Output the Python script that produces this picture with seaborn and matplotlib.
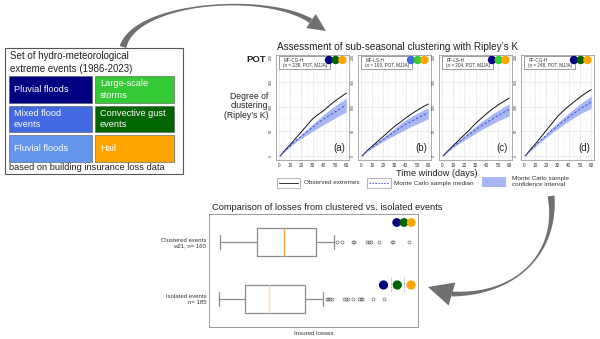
import numpy as np
import pandas as pd
import matplotlib
matplotlib.use("Agg")
import matplotlib.pyplot as plt
import seaborn as sns
from matplotlib.patches import Rectangle, Circle, Polygon
from matplotlib.ticker import NullFormatter

sns.set_theme(style="white")
plt.rcParams["font.family"] = ["Liberation Sans", "DejaVu Sans"]

# ---------------- data ----------------
event_types = ["Pluvial floods", "Large-scale\nstorms", "Mixed flood\nevents",
               "Convective gust\nevents", "Fluvial floods", "Hail"]
event_colors = ["#000080", "#35C935", "#4169E1", "#006400", "#6495ED", "#FFA500"]

days = [1, 5, 10, 15, 20, 25, 30, 35, 40, 45, 50, 55, 60]
panel_names = ["MF-CG-H", "MF-LS-H", "PF-LS-H", "PF-CG-H"]
panel_info = ["(n = 238, POT, MJJA)", "(n = 193, POT, MJJA)",
              "(n = 204, POT, MJJA)", "(n = 248, POT, MJJA)"]
panel_tags = ["(a)", "(b)", "(c)", "(d)"]
panel_dots = [["#000080", "#006400", "#FFA500"],
              ["#4169E1", "#32CD32", "#FFA500"],
              ["#000080", "#32CD32", "#FFA500"],
              ["#000080", "#006400", "#FFA500"]]

obs_a = [0, 11, 23, 36, 49, 62, 75, 84, 92, 102, 111, 119, 127]
med_a = [0, 10, 21, 31, 40, 49, 58, 67, 75, 82, 89, 96, 103]
lo_a = [0, 9, 19, 28, 36, 43, 50, 57, 64, 70, 77, 83, 89]
hi_a = [0, 11, 24, 34, 44, 54, 64, 74, 84, 93, 101, 109, 117]

obs_b = [0, 10, 20, 30, 40, 50, 60, 68, 77, 85, 92, 99, 105]
med_b = [0, 9, 18, 26, 34, 42, 49, 57, 64, 70, 76, 82, 87]
lo_b = [0, 8, 16, 23, 30, 36, 42, 48, 54, 60, 65, 70, 75]
hi_b = [0, 10, 20, 29, 38, 47, 56, 65, 73, 80, 86, 92, 97]

obs_c = [0, 10, 21, 32, 43, 54, 66, 76, 86, 95, 103, 110, 117]
med_c = [0, 9, 19, 28, 37, 45, 53, 61, 68, 75, 82, 88, 94]
lo_c = [0, 8, 17, 25, 32, 39, 46, 53, 59, 65, 71, 76, 81]
hi_c = [0, 10, 21, 31, 41, 51, 60, 69, 77, 85, 92, 99, 105]

obs_d = [0, 11, 24, 38, 52, 66, 80, 91, 101, 110, 119, 127, 134]
med_d = [0, 10, 21, 32, 42, 52, 61, 70, 79, 87, 95, 102, 109]
lo_d = [0, 9, 19, 29, 38, 47, 55, 63, 71, 78, 85, 91, 96]
hi_d = [0, 11, 23, 35, 46, 57, 67, 77, 87, 96, 105, 113, 121]

obs_all = [obs_a, obs_b, obs_c, obs_d]
med_all = [med_a, med_b, med_c, med_d]
lo_all = [lo_a, lo_b, lo_c, lo_d]
hi_all = [hi_a, hi_b, hi_c, hi_d]

# insured losses box statistics
box_labels = ["Clustered events\nw21, n= 160", "Isolated events\nn= 185"]
box_q1 = [2390, 1080]
box_med = [14200, 5290]
box_q3 = [118000, 57000]
box_wlo = [207, 194]
box_whi = [388000, 188000]
fliers_clustered = [4.73e5, 6.59e5, 1.36e6, 1.46e6, 3.43e6, 3.92e6, 4.48e6,
                    7.6e6, 1.8e7, 1.92e7, 5.52e7]
fliers_isolated = [2.44e5, 2.61e5, 2.98e5, 3.40e5, 7.52e5, 8.58e5, 9.79e5,
                   1.36e6, 2.02e6, 2.31e6, 2.47e6, 5.12e6, 1.06e7]
median_colors = ["#FFA54F", "#FFDDB5"]

# ---------------- figure ----------------
W, H = 600, 339
fig = plt.figure(figsize=(6, 3.39), dpi=100)


def rect(x, y, w, h):
    return [x / W, 1 - (y + h) / H, w / W, h / H]


ov = fig.add_axes([0, 0, 1, 1], zorder=10)
ov.set_xlim(0, W)
ov.set_ylim(H, 0)
ov.axis("off")
ov.patch.set_alpha(0)

# left box
ov.add_patch(Rectangle((4.5, 47.5), 178.5, 126, fill=False, ec="#555555", lw=0.8))
ov.text(9.5, 62.5, "Set of hydro-meteorological\nextreme events (1986-2023)",
        fontsize=7.0, va="center", ha="left", color="#222222", linespacing=1.3)
ov.text(9, 168, "based on building insurance loss data", fontsize=6.7,
        va="center", ha="left", color="#222222")
cols_x = [(9, 83), (95, 79)]
rows_y = [76, 105.5, 135]
for i, (lab, c) in enumerate(zip(event_types, event_colors)):
    cx, cw = cols_x[i % 2]
    ry = rows_y[i // 2]
    ov.add_patch(Rectangle((cx, ry), cw, 26.5, fc=c, ec="#555555", lw=0.4))
    ov.text(cx + 5, ry + 13.5, lab, color="white", fontsize=6.6,
            va="center", ha="left", linespacing=1.3)

# ---------------- Ripley panels ----------------
rows = []
for p, name in enumerate(panel_names):
    for d, o, m in zip(days, obs_all[p], med_all[p]):
        rows.append((name, d, o, "Observed"))
        rows.append((name, d, m, "Median"))
df = pd.DataFrame(rows, columns=["panel", "day", "value", "series"])

lefts = [276, 358, 439, 521]
pw, ptop, ph = 73, 55, 105
for p, name in enumerate(panel_names):
    ax = fig.add_axes(rect(lefts[p], ptop, pw, ph))
    ax.fill_between(days, lo_all[p], hi_all[p], color="#A7B7F6", lw=0, zorder=1)
    sns.lineplot(data=df[df.panel == name], x="day", y="value", hue="series",
                 style="series", palette={"Observed": "#111111", "Median": "#3F51D6"},
                 dashes={"Observed": "", "Median": (2.5, 2)}, linewidth=0.7,
                 legend=False, ax=ax, zorder=3)
    ax.set_xlim(-2.7, 62.5)
    ax.set_ylim(-8, 204)
    ax.set_xticks([0, 10, 20, 30, 40, 50, 60])
    ax.set_yticks([0, 50, 100, 150, 200])
    ax.set_xticks(range(5, 60, 10), minor=True)
    ax.set_yticks([25, 75, 125, 175], minor=True)
    ax.grid(True, which="major", color="#E6E6E6", lw=0.5)
    ax.grid(True, which="minor", color="#F3F3F3", lw=0.35)
    ax.set_axisbelow(True)
    ax.tick_params(axis="both", which="major", length=1.5, width=0.4, color="#555555",
                   labelsize=3.4, pad=0.8, labelcolor="#333333")
    ax.tick_params(axis="both", which="minor", length=0)
    for lab in ax.get_yticklabels():
        lab.set_rotation(90)
        lab.set_va("center")
        lab.set_fontsize(2.6)
    ax.set_xlabel("")
    ax.set_ylabel("")
    for s in ax.spines.values():
        s.set_color("#8A8A8A")
        s.set_linewidth(0.5)
    L = lefts[p]
    ov.add_patch(Rectangle((L + 3, 55.8), 51, 13, fc="white", ec="#777777", lw=0.5))
    ov.text(L + 8, 60, name, fontsize=3.3, va="center", ha="left", color="#333333")
    ov.text(L + 7, 65.5, panel_info[p], fontsize=3.3, va="center", ha="left", color="#333333")
    R = L + pw
    for k, c in enumerate(panel_dots[p]):
        ov.add_patch(Circle((R - 20 + 6.7 * k, 60), 4.2, fc=c, ec="none"))
    ov.text(R - 10, 148, panel_tags[p], fontsize=7, ha="center", va="center", color="#222222")

ov.text(398, 47, "Assessment of sub-seasonal clustering with Ripley\u2019s K",
        fontsize=7.2, ha="center", va="center", color="#222222")
ov.text(256, 59, "POT", fontsize=6.8, fontweight="bold", ha="center", va="center")
ov.text(268, 106, "Degree of\nclustering\n(Ripley\u2019s K)", fontsize=6.2,
        ha="right", va="center", linespacing=1.05, color="#222222")
ov.text(437, 173.5, "Time window (days)", fontsize=6.6, ha="center", va="center",
        color="#222222")

# shared legend
ov.add_patch(Rectangle((277, 178), 23, 10, fc="white", ec="#999999", lw=0.5))
ov.plot([279, 298], [183, 183], color="#111111", lw=0.6)
ov.text(304, 183, "Observed extremes", fontsize=4.6, va="center", ha="left", color="#333333")
ov.add_patch(Rectangle((367, 178), 24, 10, fc="white", ec="#999999", lw=0.5))
ov.plot([369, 389], [183, 183], color="#3F51D6", lw=0.6, ls=(0, (2, 1.5)))
ov.text(394, 183, "Monte Carlo sample median", fontsize=4.6, va="center", ha="left",
        color="#333333")
ov.add_patch(Rectangle((482, 177), 24, 10, fc="#A7B7F6", ec="none"))
ov.text(512, 181.5, "Monte Carlo sample\nconfidence interval", fontsize=4.6, va="center",
        ha="left", color="#333333", linespacing=1.1)

# ---------------- box plot ----------------
bx = fig.add_axes(rect(209, 214, 209, 113))
stats = []
for i in range(2):
    stats.append(dict(med=box_med[i], q1=box_q1[i], q3=box_q3[i], whislo=box_wlo[i],
                      whishi=box_whi[i],
                      fliers=fliers_clustered if i == 0 else fliers_isolated,
                      label=box_labels[i]))
res = bx.bxp(stats, positions=[0, 1], orientation="horizontal", widths=0.5,
             boxprops=dict(color="#8C8C8C", lw=0.9),
             whiskerprops=dict(color="#8C8C8C", lw=0.9),
             capprops=dict(color="#8C8C8C", lw=0.9),
             medianprops=dict(lw=1.0),
             flierprops=dict(marker="o", markersize=2.2, mfc="none", mec="#555555", mew=0.4))
for i, mline in enumerate(res["medians"]):
    mline.set_color(median_colors[i])
bx.set_xscale("log")
bx.set_xlim(1e2, 1e8)
bx.set_ylim(1.5, -0.5)
bx.set_yticks([0, 1])
bx.set_yticklabels(box_labels, fontsize=4.3, color="#333333")
bx.xaxis.set_major_formatter(NullFormatter())
bx.xaxis.set_minor_formatter(NullFormatter())
bx.tick_params(axis="x", which="both", length=1.2, width=0.4, color="#999999", pad=0)
bx.tick_params(axis="y", length=0, pad=2)
bx.set_xlabel("Insured losses", fontsize=4.4, labelpad=1.5, color="#333333")
for s in bx.spines.values():
    s.set_color("#8A8A8A")
    s.set_linewidth(0.6)
ov.text(327, 207, "Comparison of losses from clustered vs. isolated events",
        fontsize=6.65, ha="center", va="center", color="#222222")
for k, c in enumerate(["#000080", "#006400", "#FFA500"]):
    ov.add_patch(Circle((396.7 + 7.3 * k, 222.5), 4.4, fc=c, ec="none"))
for k, c in enumerate(["#000080", "#006400", "#FFA500"]):
    ov.add_patch(Circle((383.5 + 13.8 * k, 285), 4.6, fc=c, ec="none"))
for xx in [390.6, 404.3]:
    ov.plot([xx, xx], [277, 292], color="#888888", lw=0.5, ls=(0, (1, 1)))


# ---------------- arrows ----------------
def bez(P, t):
    P = np.asarray(P, float)
    t = t[:, None]
    return ((1 - t) ** 3) * P[0] + 3 * ((1 - t) ** 2) * t * P[1] + \
        3 * (1 - t) * t ** 2 * P[2] + t ** 3 * P[3]


def arrow(P, w, tip, head_w, color):
    t = np.linspace(0, 1, 120)
    pts = bez(P, t)
    d = np.gradient(pts, axis=0)
    n = np.stack([-d[:, 1], d[:, 0]], axis=1)
    n /= np.linalg.norm(n, axis=1)[:, None]
    ww = w[0] * (1 - t) ** 2 + 2 * (2 * w[1] - 0.5 * (w[0] + w[2])) * t * (1 - t) + w[2] * t ** 2
    ww = np.maximum(ww, 0.8)
    left = pts + n * ww[:, None] / 2
    right = pts - n * ww[:, None] / 2
    ov.add_patch(Polygon(np.vstack([left, right[::-1]]), closed=True, fc=color, ec="none"))
    base = np.asarray(P[3], float)
    tipv = np.asarray(tip, float)
    dirv = (tipv - base) / np.linalg.norm(tipv - base)
    perp = np.array([-dirv[1], dirv[0]])
    tri = [base + perp * head_w / 2, tipv, base - perp * head_w / 2]
    ov.add_patch(Polygon(tri, closed=True, fc=color, ec="none"))


arrow([(123, 47), (135, 2), (265, -8), (311, 21)], [7, 1.6, 5], (326, 31), 17, "#707070")
arrow([(551, 196), (558, 250), (520, 295), (452, 294)], [7, 1.6, 5], (428, 287), 24, "#707070")

fig.savefig("out.png", dpi=100)
